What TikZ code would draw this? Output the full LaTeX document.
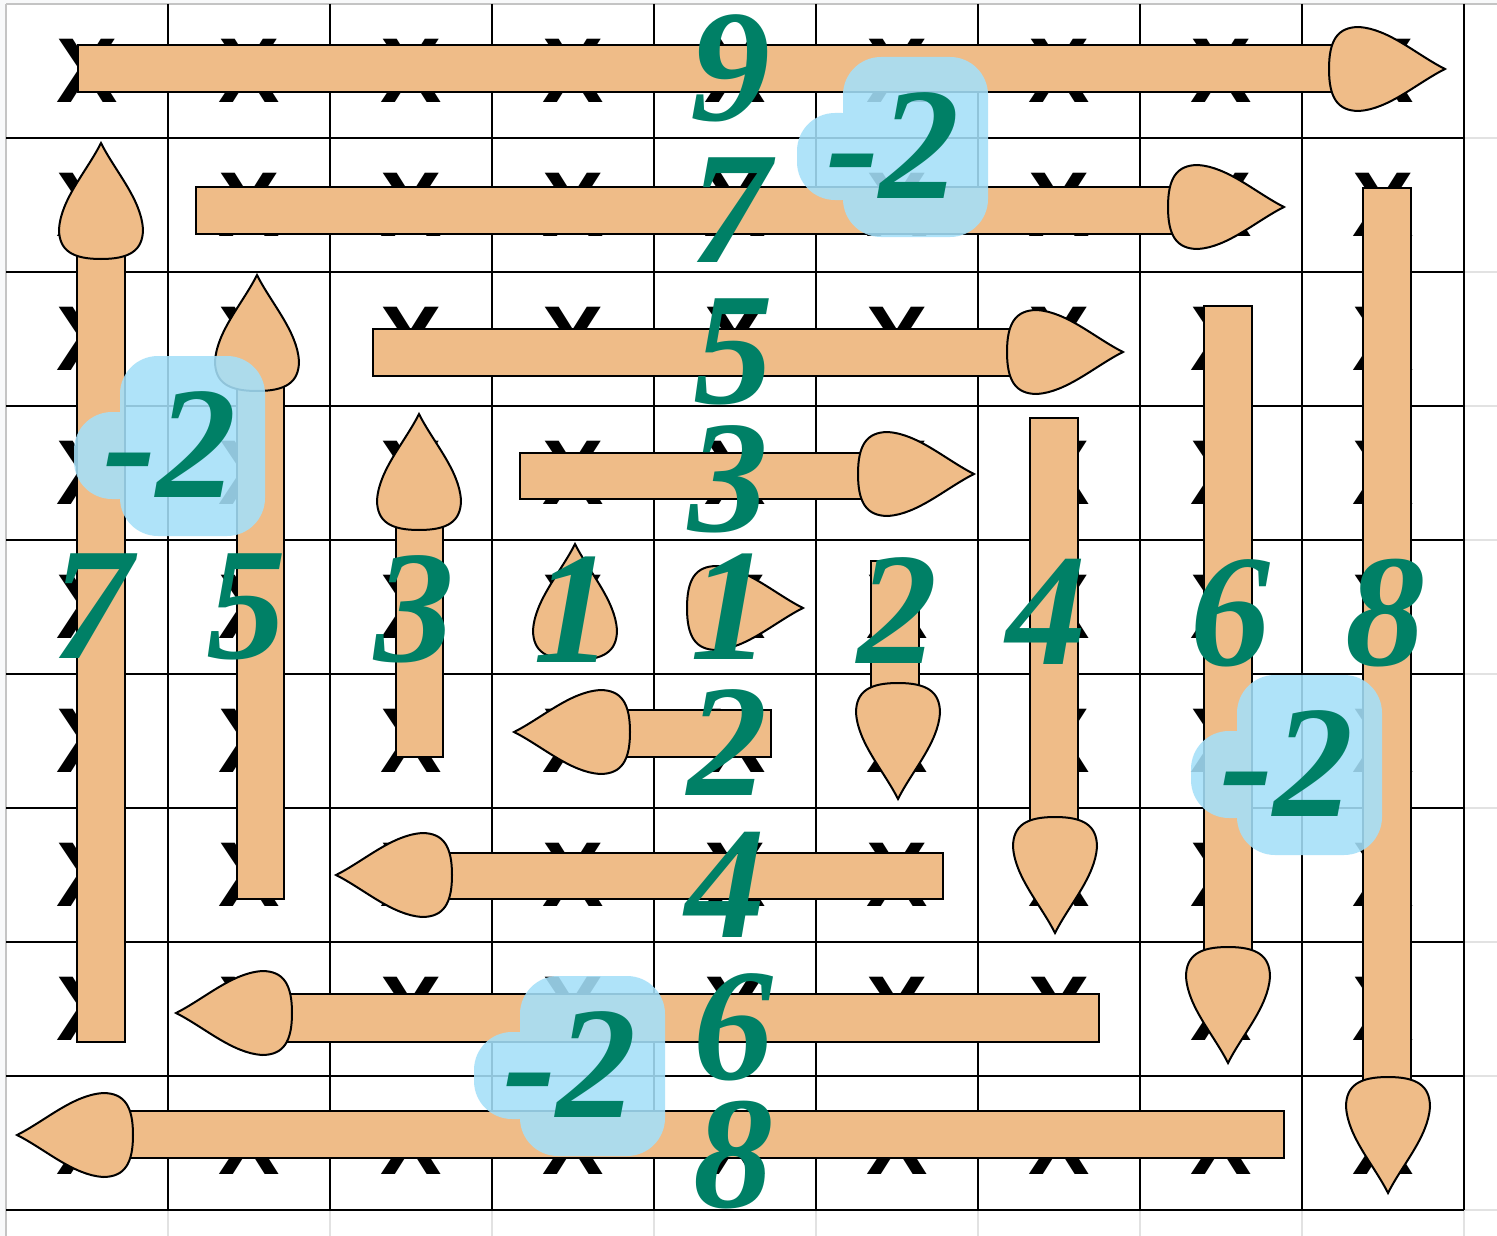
\documentclass[tikz,border=0pt]{standalone}
\usepackage{fontspec}
\newfontfamily\numfont{Liberation Serif}
\newfontfamily\xfont{Liberation Sans}
\definecolor{arrowc}{HTML}{EFBC88}
\definecolor{numc}{HTML}{008066}
\definecolor{blobc}{HTML}{A5E0F9}
\definecolor{sheetgray}{HTML}{C4C4C4}
\definecolor{sheetlight}{HTML}{E2E2E2}
\definecolor{sheetbg}{HTML}{F8F9FA}
\tikzset{
  gridline/.style={draw=black, line width=2pt},
  lightline/.style={draw=sheetlight, line width=1.5pt},
  shaftbox/.style={draw=black, line width=2pt, fill=arrowc},
  headshape/.style={draw=black, line width=2pt, fill=arrowc},
  xmark/.style={font=\xfont\bfseries\fontsize{92}{92}\selectfont, inner sep=0pt, text=black},
  num/.style={font=\numfont\bfseries\itshape\fontsize{160}{160}\selectfont, inner sep=0pt, text=numc},
  blobfill/.style={fill=blobc, fill opacity=0.88, rounded corners=38pt},
  pics/teardrop/.style={code={
    \draw[headshape] (116,0) .. controls (88,-14) and (60,-40) .. (30,-42)
      .. controls (8,-42) and (0,-28) .. (0,0)
      .. controls (0,28) and (8,42) .. (30,42)
      .. controls (60,40) and (88,14) .. (116,0) -- cycle;
  }}
}
\begin{document}
\begin{tikzpicture}[x=1pt,y=-1pt]
\useasboundingbox (0,0) rectangle (1497,1236);
\fill[white] (0,0) rectangle (1497,1236);
% spreadsheet margins
\fill[sheetbg] (0,0) rectangle (6,1236);
\fill[sheetbg] (0,0) rectangle (1497,4);
\draw[draw=sheetgray, line width=1.5pt] (6,4) -- (6,1236);
\draw[draw=sheetgray, line width=1.5pt] (6,4) -- (1497,4);
\foreach \i in {1,...,9} {
  \draw[lightline] ({6+162*\i},1210) -- ({6+162*\i},1236);
  \draw[lightline] (1464,{4+134*\i}) -- (1497,{4+134*\i});
}
% X marks
\foreach \r in {0,...,8} {
  \foreach \c in {0,...,8} {
    \node[xmark] (x\r\c) at ({87+162*\c},{71+134*\r}) {X};
  }
}
% grid
\foreach \i in {1,...,9} {
  \draw[gridline] ({6+162*\i},4) -- ({6+162*\i},1210);
  \draw[gridline] (6,{4+134*\i}) -- (1464,{4+134*\i});
}
% shafts
\draw[shaftbox] (78,45) rectangle (1340,92);
\draw[shaftbox] (196,187) rectangle (1178,234);
\draw[shaftbox] (373,329) rectangle (1017,376);
\draw[shaftbox] (520,453) rectangle (868,499);
\draw[shaftbox] (620,710) rectangle (771,757);
\draw[shaftbox] (442,853) rectangle (943,899);
\draw[shaftbox] (282,994) rectangle (1099,1042);
\draw[shaftbox] (123,1111) rectangle (1284,1158);
\draw[shaftbox] (77,249) rectangle (125,1042);
\draw[shaftbox] (237,381) rectangle (284,899);
\draw[shaftbox] (396,520) rectangle (443,757);
\draw[shaftbox] (871,561) rectangle (919,693);
\draw[shaftbox] (1030,418) rectangle (1078,827);
\draw[shaftbox] (1204,306) rectangle (1252,957);
\draw[shaftbox] (1363,188) rectangle (1411,1087);
% heads
\pic at (1329,69) {teardrop};
\pic at (1168,207) {teardrop};
\pic at (1007,352) {teardrop};
\pic at (858,474) {teardrop};
\pic at (687,608) {teardrop};
\pic[rotate=180] at (630,732) {teardrop};
\pic[rotate=180] at (452,875) {teardrop};
\pic[rotate=180] at (292,1013) {teardrop};
\pic[rotate=180] at (133,1135) {teardrop};
\pic[rotate=90] at (101,259) {teardrop};
\pic[rotate=90] at (257,391) {teardrop};
\pic[rotate=90] at (419,530) {teardrop};
\pic[rotate=90] at (575,660) {teardrop};
\pic[rotate=-90] at (898,683) {teardrop};
\pic[rotate=-90] at (1055,817) {teardrop};
\pic[rotate=-90] at (1228,947) {teardrop};
\pic[rotate=-90] at (1388,1077) {teardrop};
% numbers
\node[num] (c9) at (730,68) {9};
\node[num] (c7) at (730,210) {7};
\node[num] (c5) at (733,352) {5};
\node[num] (c3) at (728,479) {3};
\node[num] (c1) at (730,607) {1};
\node[num] (c2) at (727,743) {2};
\node[num] (c4) at (725,885) {4};
\node[num] (c6) at (733,1027) {6};
\node[num] (c8) at (733,1155) {8};
\node[num] (r7) at (92,606) {7};
\node[num] (r5) at (246,607) {5};
\node[num] (r3) at (414,609) {3};
\node[num] (r1) at (573,610) {1};
\node[num] (r2) at (897,611) {2};
\node[num] (r4) at (1046,612) {4};
\node[num] (r6) at (1230,613) {6};
\node[num] (r8) at (1385,613) {8};
% blue highlights with -2
\foreach \cx/\cy/\nm in {893/146/ba, 170/445/bb, 1287/764/bc, 570/1065/bd} {
  \fill[blobfill] ({\cx-50},{\cy-89}) rectangle ({\cx+95},{\cy+91})
                  ({\cx-96},{\cy-33}) rectangle ({\cx-13},{\cy+54});
  \node[num] (\nm) at (\cx,\cy) {-2};
}
\end{tikzpicture}
\end{document}
